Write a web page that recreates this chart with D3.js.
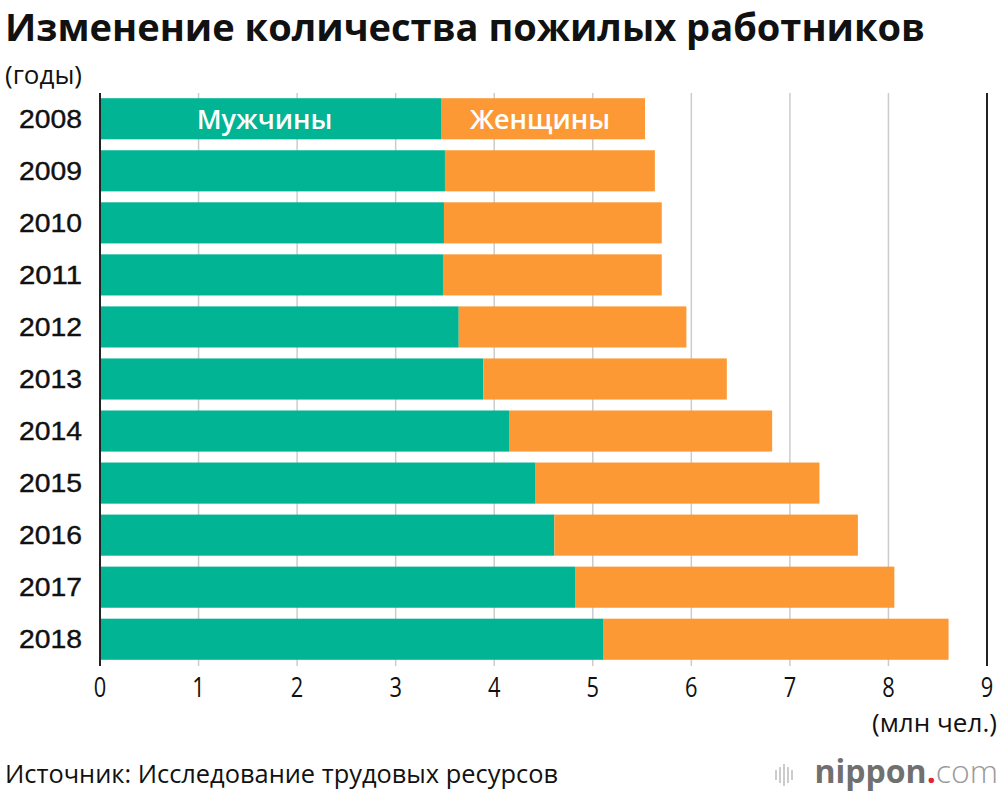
<!DOCTYPE html>
<html>
<head>
<meta charset="utf-8">
<script src="https://cdn.jsdelivr.net/npm/d3@7"></script>
<style>
  html, body { margin: 0; padding: 0; background: #fff; }
  svg { display: block; }
</style>
</head>
<body>
<svg id="chart" width="1000" height="796"></svg>
<script>
const years = ["2008","2009","2010","2011","2012","2013","2014","2015","2016","2017","2018"];
const men   = [3.46, 3.50, 3.49, 3.48, 3.64, 3.89, 4.15, 4.42, 4.61, 4.82, 5.11];
const women = [2.07, 2.13, 2.21, 2.22, 2.31, 2.47, 2.67, 2.88, 3.08, 3.24, 3.50];
const xTicks = [0, 1, 2, 3, 4, 5, 6, 7, 8, 9];
const seriesNames = ["Мужчины", "Женщины"];
const colors = ["#00b494", "#fd9935"];

const svg = d3.select("#chart");

const x = d3.scaleLinear().domain([0, 9]).range([100, 987]);
const y = d3.scaleBand().domain(years).range([93, 665]).paddingInner(0.21).paddingOuter(0.1);

// title
svg.append("text")
  .attr("x", 5).attr("y", 41)
  .attr("textLength", 920).attr("lengthAdjust", "spacingAndGlyphs")
  .style("font-family", "'Open Sans', sans-serif").style("font-weight", 700).style("font-size", "37px")
  .attr("fill", "#111")
  .text("Изменение количества пожилых работников");

svg.append("text")
  .attr("x", 5).attr("y", 84)
  .attr("textLength", 77).attr("lengthAdjust", "spacingAndGlyphs")
  .style("font-family", "'Open Sans', sans-serif").style("font-size", "25px")
  .attr("fill", "#111")
  .text("(годы)");

// gridlines
svg.append("g").selectAll("line")
  .data(xTicks.filter(d => d > 0 && d < 9))
  .join("line")
  .attr("x1", d => x(d)).attr("x2", d => x(d))
  .attr("y1", 93).attr("y2", 666)
  .attr("stroke", "#cccccc").attr("stroke-width", 1.5);

// stacked bars
const stacked = d3.stack().keys([0, 1]).value((d, k) => d[k])(years.map((yr, i) => { const o = [men[i], women[i]]; o.year = yr; return o; }));

svg.append("g").selectAll("g")
  .data(stacked)
  .join("g")
  .attr("fill", (d, i) => colors[i])
  .selectAll("rect")
  .data(d => d)
  .join("rect")
  .attr("x", d => x(d[0]))
  .attr("width", d => x(d[1]) - x(d[0]))
  .attr("y", d => y(d.data.year))
  .attr("height", y.bandwidth());

// axis lines (0 and 9)
svg.append("line").attr("x1", x(0)).attr("x2", x(0)).attr("y1", 93).attr("y2", 666)
  .attr("stroke", "#222").attr("stroke-width", 2);
svg.append("line").attr("x1", x(9)).attr("x2", x(9)).attr("y1", 93).attr("y2", 666)
  .attr("stroke", "#222").attr("stroke-width", 2);

// series labels inside first bar
const firstY = y(years[0]) + y.bandwidth() / 2;
svg.append("text")
  .attr("x", (x(0) + x(men[0])) / 2 - 6).attr("y", firstY + 10)
  .attr("text-anchor", "middle").attr("fill", "#fff")
  .style("font-family", "'Open Sans', sans-serif").style("font-weight", 600).style("font-size", "27px")
  .text(seriesNames[0]);
svg.append("text")
  .attr("x", (x(men[0]) + x(men[0] + women[0])) / 2 - 3).attr("y", firstY + 10)
  .attr("text-anchor", "middle").attr("fill", "#fff")
  .style("font-family", "'Open Sans', sans-serif").style("font-weight", 600).style("font-size", "27px")
  .text(seriesNames[1]);

// year labels
svg.append("g").selectAll("text")
  .data(years)
  .join("text")
  .attr("x", 82).attr("y", d => y(d) + y.bandwidth() / 2 + 9)
  .attr("text-anchor", "end")
  .style("font-family", "'Liberation Sans', Arial, sans-serif").style("font-size", "26px")
  .attr("fill", "#111").attr("stroke", "#111").attr("stroke-width", 0.4)
  .attr("textLength", 63).attr("lengthAdjust", "spacingAndGlyphs")
  .text(d => d);

// x tick labels
svg.append("g").selectAll("text")
  .data(xTicks)
  .join("text")
  .attr("transform", d => `translate(${x(d)},697) scale(0.78,1)`)
  .attr("text-anchor", "middle")
  .style("font-family", "'Open Sans', sans-serif").style("font-size", "28px")
  .attr("fill", "#111")
  .text(d => d);

svg.append("text")
  .attr("x", 997).attr("y", 732)
  .attr("text-anchor", "end")
  .attr("textLength", 125).attr("lengthAdjust", "spacingAndGlyphs")
  .style("font-family", "'Open Sans', sans-serif").style("font-size", "26px")
  .attr("fill", "#111")
  .text("(млн чел.)");

// source
svg.append("text")
  .attr("x", 5).attr("y", 783)
  .attr("textLength", 553).attr("lengthAdjust", "spacingAndGlyphs")
  .style("font-family", "'Open Sans', sans-serif").style("font-size", "25px")
  .attr("fill", "#111")
  .text("Источник: Исследование трудовых ресурсов");

// logo
const logo = svg.append("g");
const barsX = [776, 780, 784, 788, 792];
const barsH = [10, 16, 22, 16, 10];
logo.selectAll("line").data(barsX).join("line")
  .attr("x1", d => d).attr("x2", d => d)
  .attr("y1", (d, i) => 775 - barsH[i] / 2).attr("y2", (d, i) => 775 + barsH[i] / 2)
  .attr("stroke", "#bbb").attr("stroke-width", 1.5);
const lt = logo.append("text")
  .attr("x", 998).attr("y", 783).attr("text-anchor", "end")
  .style("font-family", "'Open Sans', sans-serif").style("font-size", "32px");
lt.append("tspan").attr("fill", "#707070").style("font-weight", 700).text("nippon");
lt.append("tspan").attr("fill", "#e0262b").style("font-weight", 700).text(".");
lt.append("tspan").attr("fill", "#9a9a9a").style("font-weight", 300).text("com");
</script>
</body>
</html>
